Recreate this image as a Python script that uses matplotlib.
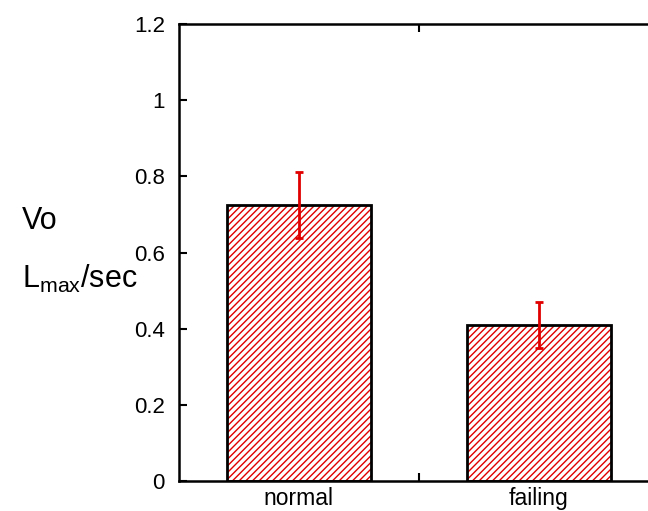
import numpy as np
import matplotlib.pyplot as plt

plt.rcParams['font.family'] = ['Liberation Sans', 'DejaVu Sans']
plt.rcParams['hatch.color'] = '#e00000'
plt.rcParams['hatch.linewidth'] = 1.0

groups = ['normal', 'failing']
vo = [0.725, 0.41]
err = [0.087, 0.06]

x = np.array([0.5, 1.5])

fig = plt.figure(figsize=(6.48, 5.11), dpi=100)
ax = fig.add_axes([0.276, 0.0587, 0.741, 0.894])

# hatched fill, then black outline on top
ax.bar(x, vo, width=0.6, color='white', edgecolor='#e00000', hatch='/////', linewidth=0)
ax.bar(x, vo, width=0.6, color='none', edgecolor='black', linewidth=2)
ax.errorbar(x, vo, yerr=err, fmt='none', ecolor='#e00000',
            elinewidth=2, capsize=3, capthick=2)

ax.set_xlim(0, 2)
ax.set_ylim(0, 1.2)
ax.set_yticks([0, 0.2, 0.4, 0.6, 0.8, 1.0, 1.2])
ax.set_yticklabels(['0', '0.2', '0.4', '0.6', '0.8', '1', '1.2'])
ax.set_xticks([1.0])
ax.set_xticklabels([''])
ax.set_xticks(x, minor=True)
ax.set_xticklabels(groups, minor=True)
ax.tick_params(axis='x', which='minor', length=0, labelsize=16.5, pad=4)
ax.tick_params(axis='both', which='major', direction='in', length=6, width=1.5,
               top=True, right=True)
ax.tick_params(axis='y', which='major', labelsize=16, pad=10)
for s in ax.spines.values():
    s.set_linewidth(1.8)

fig.text(0.034, 0.567, 'Vo', fontsize=22, va='center', ha='left')
fig.text(0.034, 0.455, r'L$_{\mathregular{max}}$/sec', fontsize=22, va='center', ha='left')

fig.savefig('out.png', dpi=100)
